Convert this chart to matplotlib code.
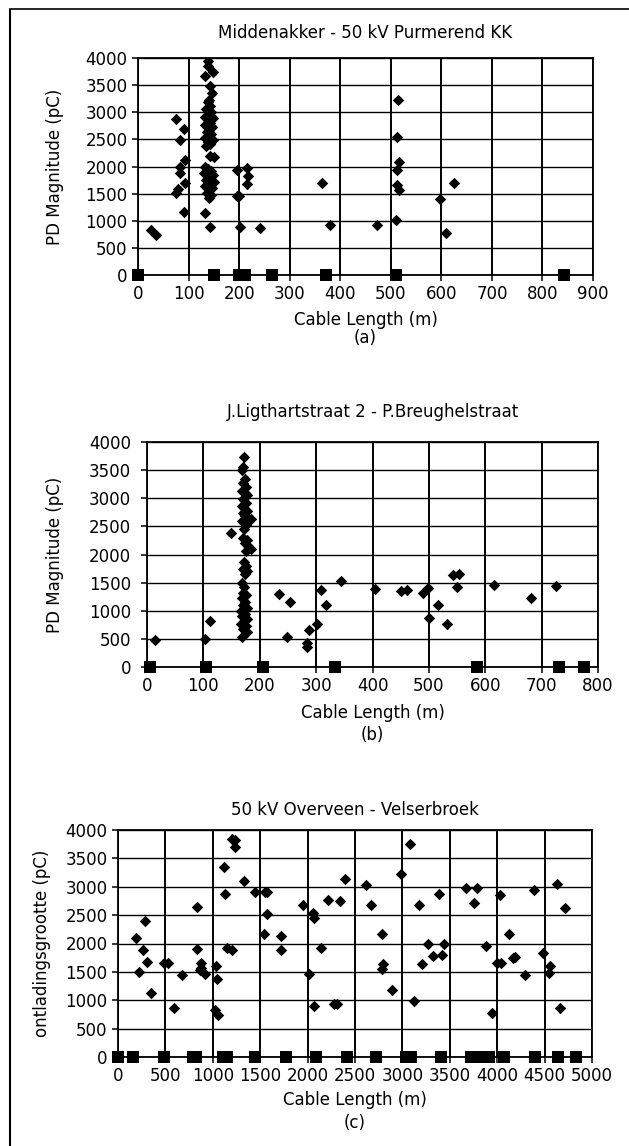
"""Three PD-mapping scatter panels (partial discharge vs cable length)."""

import matplotlib

matplotlib.use("Agg")
import matplotlib.pyplot as plt
from matplotlib.lines import Line2D
import numpy as np

W, H = 629, 1146

# ---- panel (a): Middenakker - 50 kV Purmerend KK ----
A_TITLE = "Middenakker - 50 kV Purmerend KK"
A_PD_X = [26, 36, 76, 91, 83, 93, 83, 83, 93, 79, 76, 91,
          139, 138, 149, 132, 142, 146,
          140, 138, 142, 135, 145, 140, 132, 148, 138, 143, 133, 147, 140, 136, 145, 140, 132, 148, 138, 143, 135,
          142, 150, 133, 138, 145, 130, 148, 140, 135, 150, 143, 133, 147, 140, 137, 145, 140, 132, 142,
          195, 195, 200, 202, 215, 218, 215, 242,
          364, 380, 472, 511, 512, 515, 512, 517, 512, 517, 598, 609, 625]
A_PD_Y = [830, 740, 2880, 2700, 2495, 2125, 2000, 1880, 1695, 1585, 1520, 1170,
          3940, 3850, 3745, 3665, 3480, 3360,
          3230, 3180, 3120, 3060, 3010, 2960, 2920, 2890, 2850, 2800, 2760, 2720, 2680, 2640, 2600, 2560, 2520, 2490, 2450, 2410, 2380,
          2190, 2170, 2000, 1960, 1920, 1880, 1850, 1800, 1760, 1720, 1680, 1640, 1600, 1560, 1520, 1470, 1420, 1140, 890,
          1940, 1465, 1450, 890, 1970, 1830, 1675, 860,
          1695, 930, 930, 1005, 1935, 3230, 2540, 2090, 1655, 1560, 1395, 770, 1690]
A_JOINT_X = [0, 150, 200, 212, 266, 372, 511, 842]
A_XTICKS = list(range(0, 901, 100))

# ---- panel (b): J.Ligthartstraat 2 - P.Breughelstraat ----
B_TITLE = "J.Ligthartstraat 2 - P.Breughelstraat"
B_PD_X = [15, 112, 103, 168, 149,
          172, 170, 168, 174, 170, 176, 168, 173, 178, 170, 175, 168, 172, 178, 170, 174, 185, 168, 176, 172,
          170, 177, 173, 180, 184, 176, 172, 176, 170, 178, 174, 168, 172, 170, 176, 168, 174, 170, 177, 166,
          173, 168, 178, 172, 167, 175, 170, 178,
          234, 253, 249, 288, 283, 283, 302, 309, 318, 344, 405, 450, 462, 489, 498, 517, 500, 532,
          542, 554, 550, 616, 682, 725]
B_PD_Y = [480, 820, 500, 530, 2380,
          3730, 3560, 3500, 3350, 3280, 3200, 3130, 3100, 3050, 2980, 2920, 2870, 2820, 2780, 2730, 2680, 2630, 2600, 2520, 2450,
          2300, 2250, 2200, 2150, 2100, 2070, 1870, 1800, 1750, 1700, 1650, 1500, 1420, 1320, 1280, 1220, 1160, 1100, 1050, 990,
          950, 900, 860, 820, 770, 730, 680, 620,
          1305, 1156, 534, 652, 420, 360, 759, 1364, 1109, 1524, 1380, 1356, 1362, 1308, 1403, 1095, 870, 770,
          1640, 1658, 1415, 1450, 1225, 1433]
B_JOINT_X = [5, 105, 205, 333, 585, 730, 775]
B_XTICKS = list(range(0, 801, 100))

# ---- panel (c): 50 kV Overveen - Velserbroek ----
C_TITLE = "50 kV Overveen - Velserbroek"
C_PD_X = [190, 290, 260, 310, 220, 350, 490, 530, 595, 680, 830, 830, 875, 880, 920, 870, 1030, 1040, 1020, 1050,
          1130, 1120, 1200, 1230, 1230, 1150, 1200, 1330, 1450, 1550, 1570, 1570, 1540, 1720, 1720, 1950, 2010,
          2060, 2070, 2140, 2065, 2220, 2340, 2280, 2310, 2390, 2620, 2670, 2790, 2800, 2780, 2890, 2990, 3080,
          3120, 3180, 3210, 3270, 3320, 3390, 3420, 3440, 3670, 3790, 3760, 3880, 3940, 4000, 4040, 4030, 4120,
          4170, 4190, 4290, 4390, 4480, 4630, 4560, 4550, 4710, 4660]
C_PD_Y = [2090, 2400, 1880, 1670, 1500, 1130, 1660, 1650, 860, 1450, 2650, 1900, 1660, 1560, 1460, 1530, 1600, 1370, 820, 740,
          2870, 3350, 3850, 3830, 3700, 1920, 1880, 3100, 2900, 2900, 2900, 2520, 2170, 2130, 1890, 2680, 1460,
          2540, 2450, 1920, 900, 2760, 2750, 930, 940, 3130, 3030, 2680, 2170, 1640, 1550, 1180, 3230, 3760,
          980, 2670, 1640, 2000, 1780, 2880, 1800, 2000, 2970, 2970, 2720, 1950, 780, 1650, 1650, 2850, 2170,
          1740, 1770, 1440, 2950, 1830, 3040, 1600, 1480, 2630, 870]
C_JOINT_X = [0, 160, 480, 790, 820, 1110, 1150, 1450, 1770, 2090, 2420, 2720, 3040, 3090, 3410, 3720,
             3850, 3910, 4070, 4400, 4640, 4830]
C_XTICKS = list(range(0, 5001, 500))

Y_TICKS = list(range(0, 4001, 500))

plt.rcParams["font.family"] = ["DejaVu Sans"]
plt.rcParams["font.size"] = 12


def px_rect(left, right, top, bottom):
    return [left / W, 1 - bottom / H, (right - left) / W, (bottom - top) / H]


def draw_panel(fig, rect, title, ylabel, tag, pd_x, pd_y, joint_x, xticks,
               title_y, xlab_y, tag_y, ylab_x, ypad):
    ax = fig.add_axes(px_rect(*rect))
    ax.scatter(pd_x, pd_y, marker="D", s=34, color="black", linewidths=0, zorder=4)
    ax.scatter(joint_x, np.zeros(len(joint_x)), marker="s", s=72, color="black",
               linewidths=0, zorder=5, clip_on=False)
    ax.set_xlim(xticks[0], xticks[-1])
    ax.set_ylim(Y_TICKS[0], Y_TICKS[-1])
    ax.set_xticks(xticks)
    ax.set_yticks(Y_TICKS)
    ax.grid(True, axis="x", color="black", linewidth=1.4, zorder=1)
    ax.grid(True, axis="y", color="black", linewidth=1.0, zorder=1)
    ax.set_axisbelow(True)
    for sp in ax.spines.values():
        sp.set_linewidth(1.3)
    ax.tick_params(axis="both", direction="out", length=4.5, width=1.1, labelsize=12)
    ax.tick_params(axis="y", pad=ypad)
    ax.tick_params(axis="x", pad=3)

    cx = (rect[0] + rect[1]) / 2 / W
    cy = 1 - (rect[2] + rect[3]) / 2 / H
    fig.text(cx, 1 - title_y / H, title, ha="center", va="center", fontsize=12)
    fig.text(cx, 1 - xlab_y / H, "Cable Length (m)", ha="center", va="center", fontsize=12)
    fig.text(cx, 1 - tag_y / H, tag, ha="center", va="center", fontsize=12)
    fig.text(ylab_x / W, cy, ylabel, ha="center", va="center", rotation=90, fontsize=12)
    return ax


fig = plt.figure(figsize=(W / 100, H / 100), dpi=100)

draw_panel(fig, (138, 593, 58, 275), A_TITLE, "PD Magnitude (pC)", "(a)",
           A_PD_X, A_PD_Y, A_JOINT_X, A_XTICKS, 33, 320, 338, 55, 3)
draw_panel(fig, (147, 598, 442, 667), B_TITLE, "PD Magnitude (pC)", "(b)",
           B_PD_X, B_PD_Y, B_JOINT_X, B_XTICKS, 412, 713, 735, 55, 7)
draw_panel(fig, (118, 592, 830, 1057), C_TITLE, "ontladingsgrootte (pC)", "(c)",
           C_PD_X, C_PD_Y, C_JOINT_X, C_XTICKS, 810, 1100, 1123, 42, 3)

# scanned page frame (left and top edges)
fig.add_artist(Line2D([10 / W, 10 / W], [1 - 10 / H, 0], transform=fig.transFigure,
                      color="black", linewidth=1.5))
fig.add_artist(Line2D([10 / W, 1], [1 - 9 / H, 1 - 9 / H], transform=fig.transFigure,
                      color="black", linewidth=1.2))

fig.savefig("out.png", dpi=100)
plt.close(fig)
